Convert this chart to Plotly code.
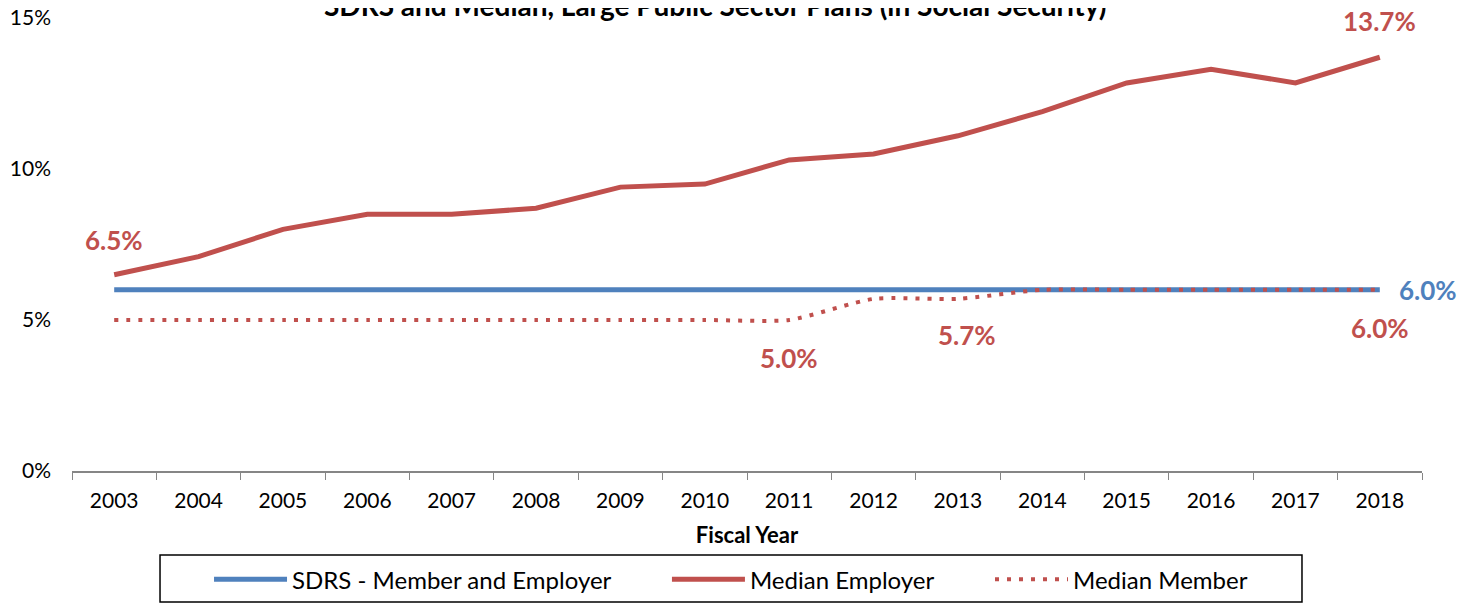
import plotly.graph_objects as go

years = [str(y) for y in range(2003, 2019)]
sdrs = [6.0] * 16
median_employer = [6.5, 7.1, 8.0, 8.5, 8.5, 8.7, 9.4, 9.5, 10.3, 10.5, 11.1, 11.9, 12.85, 13.3, 12.85, 13.7]
median_member = [5.0, 5.0, 5.0, 5.0, 5.0, 5.0, 5.0, 5.0, 5.0, 5.7, 5.7, 6.0, 6.0, 6.0, 6.0, 6.0]
y_ticks = [0, 5, 10, 15]
y_tick_labels = ["0%", "5%", "10%", "15%"]

BLUE = "#4F81BD"
RED = "#C0504D"
FONT = "Lato"

fig = go.Figure()
fig.add_trace(go.Scatter(x=years, y=sdrs, mode="lines", name="SDRS - Member and Employer",
                         line=dict(color=BLUE, width=5), legend="legend"))
fig.add_trace(go.Scatter(x=years, y=median_employer, mode="lines", name="Median Employer",
                         line=dict(color=RED, width=5), legend="legend2"))
fig.add_trace(go.Scatter(x=years, y=median_member, mode="lines", name="Median Member",
                         line=dict(color=RED, width=4, dash="4px,8px", shape="spline", smoothing=0.6),
                         legend="legend3"))

lab_font = dict(family=FONT, size=26, color=RED)
last = len(years) - 1
annots = [
    dict(x=0, y=median_employer[0], text="<b>6.5%</b>", yshift=35),
    dict(x=last, y=median_employer[last], text="<b>13.7%</b>", yshift=36),
    dict(x=last, y=sdrs[last], text="<b>6.0%</b>", xshift=48, font=dict(family=FONT, size=26, color=BLUE)),
    dict(x=last, y=median_member[last], text="<b>6.0%</b>", yshift=-38),
    dict(x=8, y=median_member[8], text="<b>5.0%</b>", yshift=-38),
    dict(x=10, y=median_member[10], text="<b>5.7%</b>", yshift=-36, xshift=9),
]
for a in annots:
    a.setdefault("font", lab_font)
    fig.add_annotation(xref="x", yref="y", showarrow=False, **a)

fig.add_annotation(xref="paper", yref="paper", x=0.477, y=1.0287, yanchor="middle",
                   text="<b>SDRS and Median, Large Public Sector Plans (in Social Security)</b>",
                   showarrow=False, font=dict(family=FONT, size=28, color="black"))

# legend frame
fig.add_shape(type="rect", xref="paper", yref="paper", x0=0.0652, x1=0.9111, y0=-0.2892, y1=-0.1854,
              line=dict(color="black", width=1.5), fillcolor="rgba(0,0,0,0)")

leg_common = dict(orientation="h", xanchor="left", y=-0.19, yanchor="top",
                  bgcolor="rgba(0,0,0,0)", borderwidth=0, font=dict(family=FONT, size=24),
                  itemwidth=73)

fig.update_layout(
    width=1465, height=595,
    margin=dict(l=64, r=51, t=10, b=132, autoexpand=False),
    paper_bgcolor="white", plot_bgcolor="white",
    font=dict(family=FONT, size=21, color="black"),
    showlegend=True,
    legend=dict(x=0.1015, **leg_common),
    legend2=dict(x=0.4407, **leg_common),
    legend3=dict(x=0.6800, **leg_common),
    xaxis=dict(type="category", range=[-0.5, last + 0.5], showgrid=False, showline=True,
               linecolor="#868686", linewidth=1.5, tickangle=0, ticklabelstandoff=10,
               ticks="outside", tickson="boundaries", ticklen=7, tickcolor="#868686",
               title=dict(text="<b>Fiscal Year</b>", font=dict(family=FONT, size=22), standoff=17)),
    yaxis=dict(range=[0, 15], tickvals=y_ticks, ticktext=y_tick_labels, showgrid=False,
               showline=False, zeroline=False, ticks="", ticklabelstandoff=20,
               ticklabeloverflow="allow"),
)

fig.write_html("out.html")
